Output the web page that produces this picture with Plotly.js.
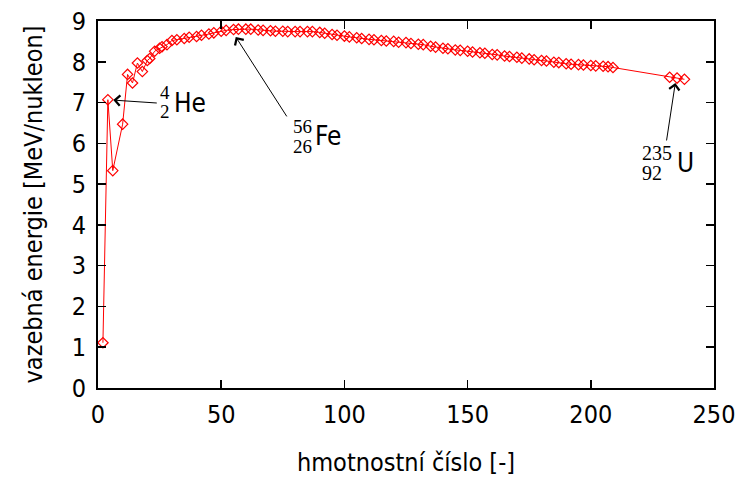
<!DOCTYPE html>
<html>
<head>
<meta charset="utf-8">
<script src="https://cdn.plot.ly/plotly-3.0.1.min.js"></script>
<style>html,body{margin:0;padding:0;background:#fff;}#chart{width:742px;height:477px;}</style>
</head>
<body>
<div id="chart"></div>
<script>
// mass number A
const massNumber = [2,4,6,10,12,14,16,18,20,21,23,25,26,28,30,32,35,37,40,42,45,47,50,52,55,57,60,62,65,67,70,72,75,77,80,82,85,87,90,92,95,97,100,102,105,107,110,112,115,117,120,122,125,127,130,132,135,137,140,142,145,147,150,152,155,157,160,162,165,167,170,172,175,177,180,182,185,187,190,192,195,197,200,202,205,207,209,232,235,238];
// binding energy per nucleon [MeV/nucleon]
const bindingEnergy = [1.11,7.07,5.33,6.47,7.69,7.48,7.97,7.76,8.03,8.08,8.26,8.33,8.37,8.42,8.52,8.54,8.57,8.60,8.62,8.65,8.68,8.71,8.75,8.77,8.79,8.80,8.80,8.80,8.78,8.77,8.76,8.75,8.75,8.74,8.74,8.74,8.74,8.74,8.72,8.70,8.67,8.65,8.63,8.61,8.59,8.57,8.55,8.54,8.52,8.51,8.50,8.48,8.47,8.45,8.43,8.42,8.38,8.36,8.33,8.32,8.29,8.28,8.26,8.24,8.22,8.21,8.18,8.17,8.14,8.13,8.11,8.09,8.07,8.05,8.03,8.02,7.99,7.98,7.95,7.94,7.93,7.92,7.91,7.90,7.89,7.88,7.86,7.62,7.60,7.57];
const xTicks = [0,50,100,150,200,250];
const yTicks = [0,1,2,3,4,5,6,7,8,9];

const sans = 'DejaVu Sans Condensed, Liberation Sans Narrow, DejaVu Sans, sans-serif';
const serif = 'Liberation Serif, DejaVu Serif, serif';

const trace = {
  x: massNumber, y: bindingEnergy, type: 'scatter', mode: 'lines+markers',
  line: {color: '#ff0000', width: 1},
  marker: {symbol: 'diamond-open', size: 8, color: '#ff0000', line: {width: 1.2, color: '#ff0000'}},
  hoverinfo: 'skip', showlegend: false
};

function arrow(x, y, ax, ay) {
  return {x: x, y: y, xref: 'x', yref: 'y', text: '', showarrow: true, arrowhead: 4, arrowsize: 2, arrowwidth: 1, arrowcolor: '#000', ax: ax, ay: ay, standoff: 0, startstandoff: 0};
}
function label(x, y, t, size, fam) {
  return {x: x, y: y, xref: 'x', yref: 'y', text: t, showarrow: false, font: {family: fam, size: size, color: '#000'}, xanchor: 'center', yanchor: 'middle'};
}

const layout = {
  width: 742, height: 477,
  margin: {l: 98, r: 28, t: 21, b: 89},
  paper_bgcolor: '#fff', plot_bgcolor: '#fff',
  font: {family: sans, size: 26, color: '#000'},
  xaxis: {
    range: [0, 250], tickvals: xTicks, ticktext: xTicks.map(String),
    showline: true, linecolor: '#000', linewidth: 2, mirror: 'ticks',
    ticks: 'inside', ticklen: 8, tickwidth: 1.5, tickcolor: '#000',
    showgrid: false, zeroline: false, ticklabelstandoff: 3,
    tickfont: {family: sans, size: 25},
    title: {text: 'hmotnostní číslo [-]', font: {family: sans, size: 25}, standoff: 26}
  },
  yaxis: {
    range: [0, 9], tickvals: yTicks, ticktext: yTicks.map(String),
    showline: true, linecolor: '#000', linewidth: 2, mirror: 'ticks',
    ticks: 'inside', ticklen: 8, tickwidth: 1.5, tickcolor: '#000',
    showgrid: false, zeroline: false, ticklabelstandoff: 5,
    tickfont: {family: sans, size: 25},
    title: {text: 'vazebná energie [MeV/nukleon]', font: {family: sans, size: 25}, standoff: 22}
  },
  annotations: [
    arrow(6.2, 7.06, 45, 3),
    label(27.2, 7.25, '4', 19, serif),
    label(27.2, 6.78, '2', 19, serif),
    label(37.5, 7.0, 'He', 26, sans),
    arrow(55.9, 8.61, 52, 81),
    label(83.0, 6.42, '56', 19, serif),
    label(83.0, 5.93, '26', 19, serif),
    label(93.5, 6.17, 'Fe', 26, sans),
    arrow(234.3, 7.48, -9, 59),
    label(226.8, 5.77, '235', 20, serif),
    label(225.0, 5.28, '92', 20, serif),
    label(238.6, 5.52, 'U', 26, sans)
  ]
};

Plotly.newPlot('chart', [trace], layout, {staticPlot: true, displayModeBar: false});
</script>
</body>
</html>
